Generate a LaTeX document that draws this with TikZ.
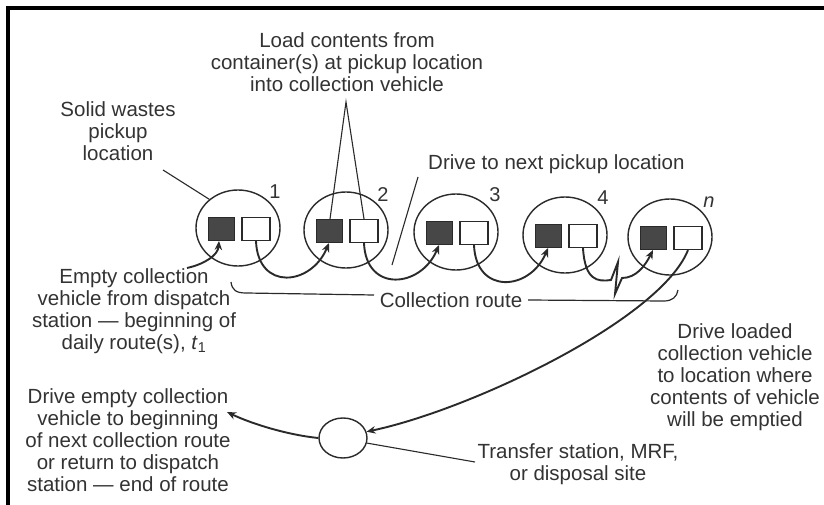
\documentclass[tikz,border=0pt]{standalone}
\usepackage{fontspec}
\setmainfont{Liberation Sans}
\usetikzlibrary{arrows.meta,shapes.geometric}
\definecolor{ink}{HTML}{2A2A2A}
\definecolor{textgray}{HTML}{333333}
\definecolor{boxfill}{HTML}{474747}
\begin{document}
\begin{tikzpicture}[x=1pt,y=-1pt,
  txt/.style={text=textgray, font=\fontsize{20.5}{22}\selectfont, align=center, inner sep=0pt},
  num/.style={text=textgray, font=\fontsize{20}{22}\selectfont, inner sep=0pt},
  loc/.style={ellipse, draw=ink, line width=1.4pt, minimum width=84, minimum height=76, inner sep=0pt},
  dsq/.style={draw=ink, fill=boxfill, line width=1pt, minimum width=26, minimum height=23, inner sep=0pt},
  wsq/.style={draw=ink, fill=white, line width=1.3pt, minimum width=28, minimum height=23, inner sep=0pt},
  route/.style={draw=ink, line width=1.9pt, -{Stealth[length=9pt,width=7.5pt]}},
  lead/.style={draw=ink, line width=1.1pt},
  brk/.style={draw=ink, line width=1.2pt}]
\useasboundingbox (0,0) rectangle (824,505);
\fill[white] (0,0) rectangle (824,505);
\fill[black] (6,6) rectangle (824,10);
\fill[black] (6,6) rectangle (10,505);

% pickup locations
\foreach \i/\cx/\cy in {1/238/228,2/346/230,3/456/232,4/565/235,5/670/237}{
  \node[loc] (c\i) at (\cx,\cy) {};
  \node[dsq] (d\i) at (\cx-17,\cy+1) {};
  \node[wsq] (w\i) at (\cx+18,\cy+1) {};
}
\node[num] (n1) at (275,192) {1};
\node[num] (n2) at (383,195) {2};
\node[num] (n3) at (495,195) {3};
\node[num] (n4) at (603,198) {4};
\node[num] (n5) at (709,202) {\textit{n}};

% disposal site
\node[ellipse, draw=ink, line width=1.4pt, minimum width=48, minimum height=40, inner sep=0pt] (tc) at (343,438) {};

% texts
\node[txt] (load) at (347,62) {Load contents from\\container(s) at pickup location\\into collection vehicle};
\node[txt] (solid) at (118,131) {Solid wastes\\pickup\\location};
\node[txt, anchor=west] (next) at (428,164) {Drive to next pickup location};
\node[txt] (empty) at (134,311) {Empty collection\\vehicle from dispatch\\station — beginning of\\daily route(s), \textit{t}\textsubscript{1}};
\node[txt] (droute) at (451,300) {Collection route};
\node[txt] (loaded) at (735,377) {Drive loaded\\collection vehicle\\to location where\\contents of vehicle\\will be emptied};
\node[txt] (dempty) at (128,440) {Drive empty collection\\vehicle to beginning\\of next collection route\\or return to dispatch\\station — end of route};
\node[txt] (transfer) at (578,464) {Transfer station, MRF,\\or disposal site};

% leaders
\coordinate (ls) at (163,170);
\draw[lead] (ls) -- (c1.135);
\coordinate (apex) at (346,102);
\draw[lead] ([xshift=1]d2.north) -- (apex) -- (w2.north);
\coordinate (nx1) at (418,177);
\coordinate (nx2) at (392,265);
\draw[lead] (nx1) -- (nx2);
\coordinate (tr) at (475,462);
\draw[lead] (tc.-12) -- (tr);

% collection route bracket
\coordinate (bl) at (231,282);
\coordinate (br) at (678,290);
\draw[brk] (bl) .. controls (232,290) and (236,293) .. (246,293) -- (374,295);
\draw[brk] (528,300) -- (664,301) .. controls (672,301) and (677,297) .. (br);

% route
\coordinate (st) at (187,268);
\draw[route] (st) .. controls +(18,-4) and +(-1,14) .. ([xshift=-2]d1.south);
\draw[route] (w1.south) .. controls +(2,50) and +(-18,43) .. (d2.south);
\draw[route] (w2.south) .. controls +(2,50) and +(-18,43) .. (d3.south);
\draw[route] (w3.south) .. controls +(2,50) and +(-18,43) .. (d4.south);
\coordinate (zA) at (611,280);
\coordinate (zB) at (618,262);
\coordinate (zC) at (615,294);
\coordinate (zD) at (622,278);
\draw[route] (w4.south) .. controls +(2,32) and +(-14,2) .. (zA) -- (zB) -- (zC) -- (zD) .. controls +(14,0) and +(-8,16) .. (d5.south);
\draw[route] (w5.south) .. controls (660,320) and (470,410) .. (tc.15);
\coordinate (de) at (227,412);
\draw[route] (tc.west) .. controls +(-30,-3) and +(25,12) .. (de);
\end{tikzpicture}
\end{document}
